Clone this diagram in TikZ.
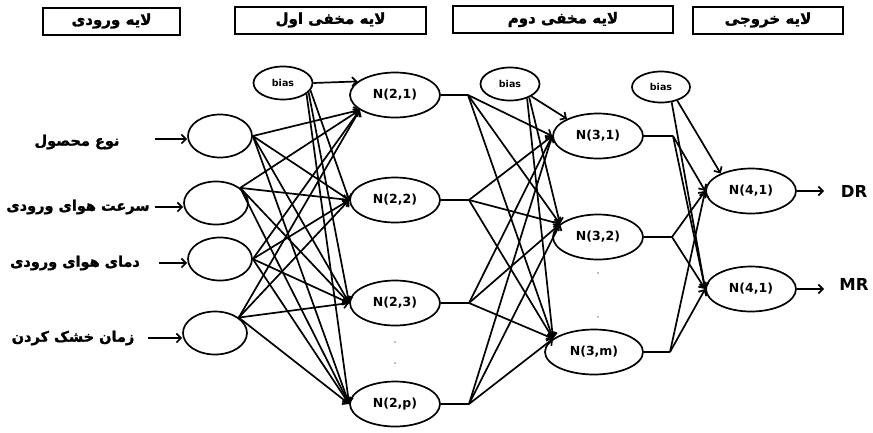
\documentclass[tikz,border=0pt]{standalone}
\usepackage{fontspec}
\setmainfont{DejaVu Sans}
\newfontfamily\fa[Script=Arabic,FakeBold=1.5]{DejaVu Sans}
\TeXXeTstate=1
\usetikzlibrary{shapes.geometric,arrows.meta}
\tikzset{
  neuron/.style={ellipse,draw,line width=1.7pt,inner sep=0pt,minimum width=90pt,minimum height=45pt,font=\bfseries\fontsize{12.5}{13}\selectfont},
  inneuron/.style={ellipse,draw,line width=1.7pt,inner sep=0pt,minimum width=64pt,minimum height=43pt},
  biasnode/.style={ellipse,draw,line width=1.7pt,inner sep=0pt,minimum width=59pt,minimum height=33pt,font=\bfseries\fontsize{9.5}{10}\selectfont},
  header/.style={draw,line width=2pt,inner sep=0pt,minimum height=27pt,font=\fa\bfseries\fontsize{15}{16}\selectfont},
  inlabel/.style={font=\fa\bfseries\fontsize{14.5}{15}\selectfont,inner sep=0pt},
  outlabel/.style={font=\bfseries\fontsize{16.5}{17}\selectfont,inner sep=0pt},
  conn/.style={line width=1.7pt,-{Straight Barb[length=4.5pt,width=9pt]}},
  plain/.style={line width=1.7pt},
  dotmark/.style={circle,fill=gray,inner sep=0pt,minimum size=1.6pt}
}
\begin{document}
\begin{tikzpicture}[x=1pt,y=-1pt]
\useasboundingbox (0,0) rectangle (873,432);
% headers
\node[header,minimum width=137pt] (hd1) at (111.5,21) {\beginR لایه ورودی\endR};
\node[header,minimum width=191pt] (hd2) at (330.5,20) {\beginR لایه مخفی اول\endR};
\node[header,minimum width=220pt] (hd3) at (563,19.5) {\beginR لایه مخفی دوم\endR};
\node[header,minimum width=150pt] (hd4) at (768,20) {\beginR لایه خروجی\endR};
% input labels
\node[inlabel] (l1) at (77,142) {\beginR نوع محصول\endR};
\node[inlabel] (l2) at (78,207) {\beginR سرعت هوای ورودی\endR};
\node[inlabel] (l3) at (75,263) {\beginR دمای هوای ورودی\endR};
\node[inlabel] (l4) at (73,338) {\beginR زمان خشک کردن\endR};
% input nodes
\node[inneuron] (in1) at (220,136) {};
\node[inneuron] (in2) at (216,203) {};
\node[inneuron] (in3) at (220,259) {};
\node[inneuron] (in4) at (215,333) {};
\coordinate (a1) at (155,139);
\coordinate (a2) at (155,207);
\coordinate (a3) at (159,263);
\coordinate (a4) at (148,338);
\draw[conn] (a1) -- (in1.west |- a1);
\draw[conn] (a2) -- (in2.west |- a2);
\draw[conn] (a3) -- (in3.west |- a3);
\draw[conn] (a4) -- (in4.west |- a4);
% hidden layer 1
\node[biasnode] (b1) at (283,83) {bias};
\node[neuron] (h1) at (395,95) {N(2,1)};
\node[neuron] (h2) at (395,200) {N(2,2)};
\node[neuron] (h3) at (395,303) {N(2,3)};
\node[neuron] (h4) at (395,404) {N(2,p)};
\node[dotmark] (d1) at (395,342) {};
\node[dotmark] (d2) at (395,363) {};
% hidden layer 2
\node[biasnode] (b2) at (510,84) {bias};
\node[neuron] (g1) at (598,136) {N(3,1)};
\node[neuron] (g2) at (598,237) {N(3,2)};
\node[neuron,minimum width=98pt] (g3) at (594,352) {N(3,m)};
\node[dotmark] (d3) at (598,273) {};
\node[dotmark] (d4) at (598,317) {};
% output layer
\node[biasnode,minimum width=58pt,minimum height=31pt] (b3) at (661,87) {bias};
\node[neuron] (o1) at (751,191) {N(4,1)};
\node[neuron] (o2) at (751,289) {N(4,1)};
\node[outlabel] (dr) at (854,191) {DR};
\node[outlabel] (mr) at (854,284) {MR};
\coordinate (e1) at (824,191);
\coordinate (e2) at (824,289);
\draw[conn] (o1.east) -- (e1);
\draw[conn] (o2.east) -- (e2);
% input -> hidden 1
\foreach \s in {in1.east,in2.32,in3.east,in4.33}{
  \draw[conn] (\s) -- (h1.203);
  \draw[conn] (\s) -- (h2.west);
  \draw[conn] (\s) -- (h3.west);
  \draw[conn] (\s) -- (h4.west);
}
\draw[conn] (b1.east) -- (h1.160);
\draw[conn] (b1.-15) -- (h2.west);
\draw[conn] (b1.-20) -- (h3.west);
\draw[conn] (b1.-25) -- (h4.west);
% stubs hidden 1
\coordinate (s1) at (468,95);
\coordinate (s2) at (469,200);
\coordinate (s3) at (469,303);
\coordinate (s4) at (469,404);
\draw[plain] (h1.east) -- (s1);
\draw[plain] (h2.east) -- (s2);
\draw[plain] (h3.east) -- (s3);
\draw[plain] (h4.east) -- (s4);
\foreach \s in {s1,s2,s3,s4}{
  \draw[conn] (\s) -- (g1.west);
  \draw[conn] (\s) -- (g2.161);
  \draw[conn] (\s) -- (g3.162);
}
\draw[conn] (b2.-30) -- (g1.151);
\draw[conn] (b2.-35) -- (g2.161);
\draw[conn] (b2.-40) -- (g3.162);
% stubs hidden 2
\coordinate (t1) at (673,136);
\coordinate (t2) at (672,237);
\coordinate (t3) at (670,352);
\draw[plain] (g1.east) -- (t1);
\draw[plain] (g2.east) -- (t2);
\draw[plain] (g3.east) -- (t3);
\foreach \s in {t1,t2,t3}{
  \draw[conn] (\s) -- (o1.west);
  \draw[conn] (\s) -- (o2.west);
}
\draw[conn] (b3.-40) -- (o1.150);
\draw[conn] (b3.-55) -- (o2.west);
\end{tikzpicture}
\end{document}
